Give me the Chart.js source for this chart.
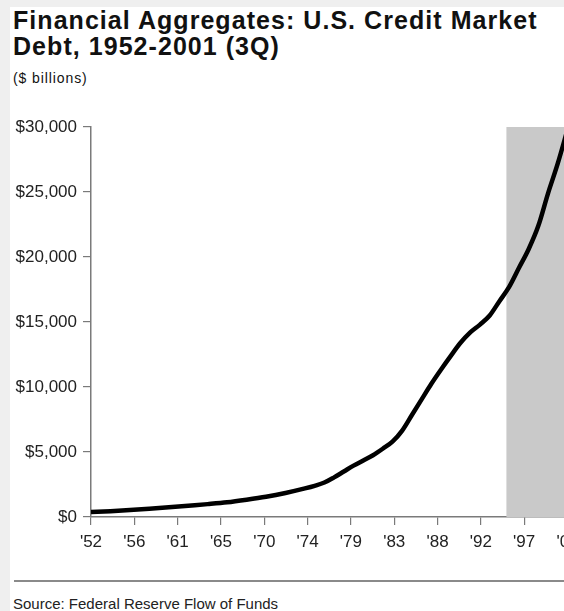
<!DOCTYPE html>
<html>
<head>
<meta charset="utf-8">
<script src="https://cdn.jsdelivr.net/npm/chart.js@4/dist/chart.umd.min.js"></script>
<style>
    html, body { margin: 0; padding: 0; width: 564px; height: 611px; overflow: hidden; background: #efefef; }
    body { position: relative; font-family: "Liberation Sans", Arial, Helvetica, sans-serif; }
    .panel { position: absolute; left: 10px; top: 7px; width: 620px; height: 640px; background: #fff; }
    .title { position: absolute; left: 13px; top: 7px; font-size: 25px; line-height: 26px; font-weight: bold; letter-spacing: 1.05px; color: #111; white-space: nowrap; }
    .units { position: absolute; left: 13px; top: 70px; font-size: 14px; line-height: 16px; letter-spacing: 0.9px; color: #111; white-space: nowrap; }
    .rule { position: absolute; left: 14px; top: 580px; width: 600px; height: 2px; background: #8a8a8a; }
    .source { position: absolute; left: 13px; top: 595px; font-size: 15px; line-height: 17px; color: #222; white-space: nowrap; }
    #chart { position: absolute; left: 0; top: 100px; }
</style>
</head>
<body>
<div class="panel"></div>
<div class="title">Financial Aggregates: U.S. Credit Market<br>Debt, 1952-2001 (3Q)</div>
<div class="units">($ billions)</div>
<canvas id="chart" width="620" height="470"></canvas>
<div class="rule"></div>
<div class="source">Source: Federal Reserve Flow of Funds</div>
<script>
// Data ($ billions)
const years = [1952, 1954, 1956, 1958, 1960, 1962, 1964, 1966, 1968, 1970, 1972, 1974, 1975, 1976,
               1977, 1978, 1979, 1980, 1981, 1982, 1983, 1984, 1985, 1986, 1987, 1988, 1989, 1990,
               1991, 1992, 1993, 1994, 1995, 1996, 1997, 1998, 1999, 2000, 2001];
const debt = [380, 450, 540, 640, 750, 870, 990, 1130, 1330, 1560, 1850, 2200, 2400, 2650,
              3050, 3500, 3950, 4350, 4750, 5250, 5800, 6650, 7850, 9050, 10250, 11350, 12400, 13400,
              14200, 14800, 15500, 16600, 17700, 19150, 20600, 22400, 24900, 27200, 29800];

const xTickLabels = ["'52", "'56", "'61", "'65", "'70", "'74", "'79", "'83", "'88", "'92", "'97", "'01"];
const xMin = 1952;
const xMax = 2001;
const yMax = 30000;
const yStep = 5000;

// shaded band at the right
const shadeStart = 1994.7;
const shadeEnd = 2001;

const FONT = "'Liberation Sans', Arial, Helvetica, sans-serif";
const AXIS_GRAY = '#7a7a7a';

const debtPoints = years.map((y, i) => ({ x: y, y: debt[i] }));
const shadePoints = [{ x: shadeStart, y: yMax }, { x: shadeEnd, y: yMax }];

// ticks are evenly spaced across the year range
const xTickValues = xTickLabels.map((_, i) => xMin + i * (xMax - xMin) / (xTickLabels.length - 1));

const ctx = document.getElementById('chart').getContext('2d');
new Chart(ctx, {
    type: 'line',
    data: {
        datasets: [
            {
                label: 'Credit market debt',
                data: debtPoints,
                borderColor: '#000',
                borderWidth: 4.5,
                pointRadius: 0,
                fill: false,
                cubicInterpolationMode: 'monotone',
                order: 1
            },
            {
                label: 'shade',
                data: shadePoints,
                borderWidth: 0,
                borderColor: 'rgba(0,0,0,0)',
                backgroundColor: '#c9c9c9',
                pointRadius: 0,
                fill: 'origin',
                order: 2
            }
        ]
    },
    options: {
        responsive: false,
        animation: false,
        layout: { padding: { left: 0, right: 52.5, top: 27, bottom: 0 } },
        plugins: { legend: { display: false }, tooltip: { enabled: false } },
        scales: {
            x: {
                type: 'linear',
                min: xMin,
                max: xMax,
                afterBuildTicks: (scale) => { scale.ticks = xTickValues.map(v => ({ value: v })); },
                afterFit: (scale) => { scale.height = 53; },
                grid: { display: true, drawOnChartArea: false, drawTicks: true, tickLength: 8, color: AXIS_GRAY, lineWidth: 1.2 },
                border: { display: true, color: AXIS_GRAY, width: 1.5 },
                ticks: {
                    autoSkip: false,
                    maxRotation: 0,
                    padding: 7,
                    color: '#222',
                    font: { family: FONT, size: 17 },
                    callback: (value, index) => xTickLabels[index]
                }
            },
            y: {
                min: 0,
                max: yMax,
                afterFit: (scale) => { scale.width = 91; },
                grid: { display: true, drawOnChartArea: false, drawTicks: true, tickLength: 8, color: AXIS_GRAY, lineWidth: 1.2 },
                border: { display: true, color: AXIS_GRAY, width: 1.5 },
                ticks: {
                    stepSize: yStep,
                    padding: 6,
                    color: '#222',
                    font: { family: FONT, size: 17 },
                    callback: (value) => '$' + value.toLocaleString('en-US')
                }
            }
        }
    }
});
</script>
</body>
</html>
